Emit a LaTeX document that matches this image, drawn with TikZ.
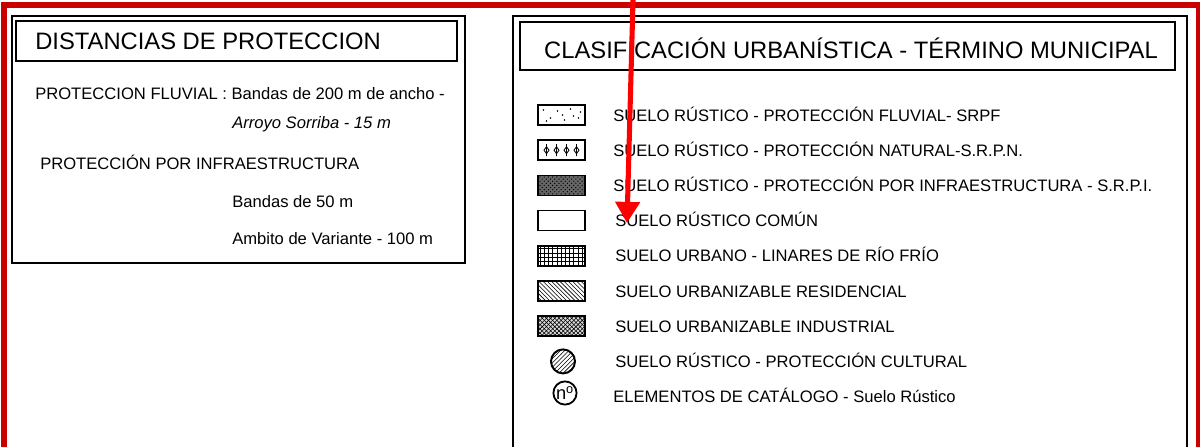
\documentclass[tikz,border=0pt]{standalone}
\usepackage{fontspec}
\setmainfont{Liberation Sans}
\usetikzlibrary{positioning}
\usetikzlibrary{arrows.meta}
\usetikzlibrary{patterns}
\definecolor{framered}{RGB}{200,0,0}

\begin{document}
\begin{tikzpicture}[
  x=0.025cm, y=-0.025cm,
  legtext/.style={anchor=base west, inner sep=0pt, font=\fontsize{11.8}{14}\selectfont},
  titletext/.style={anchor=base west, inner sep=0pt, font=\fontsize{16.9}{20}\selectfont},
  boxline/.style={draw, line width=1.3pt},
  swatch/.style={draw, line width=1.2pt, minimum width=1.175cm, minimum height=0.5cm, inner sep=0pt},
  redframe/.style={line width=4.2pt, draw=framered},
  redarrow/.style={-{Triangle[length=15pt,width=17pt]}, line width=3.6pt, red}
]
\useasboundingbox (0,0) rectangle (1200,447);

% left box: distancias
\draw[boxline] (12,16) rectangle (465,263);
\draw[boxline] (16,21) rectangle (457,61);
\node[titletext] (ltitle) at (35,49.5) {DISTANCIAS DE PROTECCION};
\node[legtext] (lfluvial) at (35,99) {PROTECCION FLUVIAL : Bandas de 200 m de ancho -};
\node[legtext] (larroyo) at (232,128) {\itshape Arroyo Sorriba - 15 m};
\node[legtext] (linfra) at (40,169) {PROTECCIÓN POR INFRAESTRUCTURA};
\node[legtext] (lbandas) at (232,207) {Bandas de 50 m};
\node[legtext] (lambito) at (232,244) {Ambito de Variante - 100 m};

% right box: clasificacion
\draw[boxline] (513,447) -- (513,16) -- (1187,16) -- (1187,447);
\draw[boxline] (520,22) rectangle (1175,70);
\node[titletext, anchor=base] (rtitle) at (851,58.5) {CLASIFICACIÓN URBANÍSTICA - TÉRMINO MUNICIPAL};

% swatches
\node[swatch] (sfluvial) at (561.5,115) {};
\foreach \dx/\dy in {-18/-5, -11/3, -4/-4, 3/5, 9/-6, 17/3, -15/6, 1/0, 12/1, 19/-3}
  \fill ([shift={(\dx,\dy)}]sfluvial.center) circle (0.7pt);
\node[swatch] (snatural) at (561.5,150.2) {};
\foreach \dx in {-15,-5,5,15}
  \draw[line width=0.6pt] ([shift={(\dx,0)}]snatural.center) +(0,-6) -- +(0,6)
    +(-2.5,0) -- +(0,-3.5) -- +(2.5,0) -- +(0,3.5) -- cycle;
\node[swatch, preaction={fill=black!60}, pattern=crosshatch dots] (sinfra) at (561.5,185.4) {};
\node[swatch] (scomun) at (561.5,220.6) {};
\node[swatch, pattern=grid] (surbano) at (561.5,255.8) {};
\node[swatch, pattern=north west lines] (sresid) at (561.5,291) {};
\node[swatch, preaction={fill=black!15}, pattern=crosshatch] (sindus) at (561.5,326.2) {};
\node[circle, draw, line width=1.4pt, minimum size=0.6cm, pattern=north east lines] (scultural) at (563,361.4) {};
\node[circle, draw, line width=1.3pt, minimum size=0.58cm, inner sep=0pt, font=\fontsize{13}{14}\selectfont] (scatalogo) at (565,393) {n\textsuperscript{o}};

% legend texts
\node[legtext] (rfluvial) at (613,121) {SUELO RÚSTICO - PROTECCIÓN FLUVIAL- SRPF};
\node[legtext] (rnatural) at (613,156.2) {SUELO RÚSTICO - PROTECCIÓN NATURAL-S.R.P.N.};
\node[legtext] (rinfra) at (613,191.4) {SUELO RÚSTICO - PROTECCIÓN POR INFRAESTRUCTURA - S.R.P.I.};
\node[legtext] (rcomun) at (615,226.6) {SUELO RÚSTICO COMÚN};
\node[legtext] (rurbano) at (615,261.8) {SUELO URBANO - LINARES DE RÍO FRÍO};
\node[legtext] (rresid) at (615,297) {SUELO URBANIZABLE RESIDENCIAL};
\node[legtext] (rindus) at (615,332.2) {SUELO URBANIZABLE INDUSTRIAL};
\node[legtext] (rcultural) at (615,367.4) {SUELO RÚSTICO - PROTECCIÓN CULTURAL};
\node[legtext] (rcatalogo) at (613,402.6) {ELEMENTOS DE CATÁLOGO - Suelo Rústico};

% red markup
\draw[redframe] (4,447) -- (4,5) -- (1198.5,5) -- (1198.5,447);
\coordinate (arrowtop) at (633,0);
\coordinate (arrowtip) at (627,223);
\draw[redarrow] (arrowtop) -- (arrowtip);
\end{tikzpicture}
\end{document}
